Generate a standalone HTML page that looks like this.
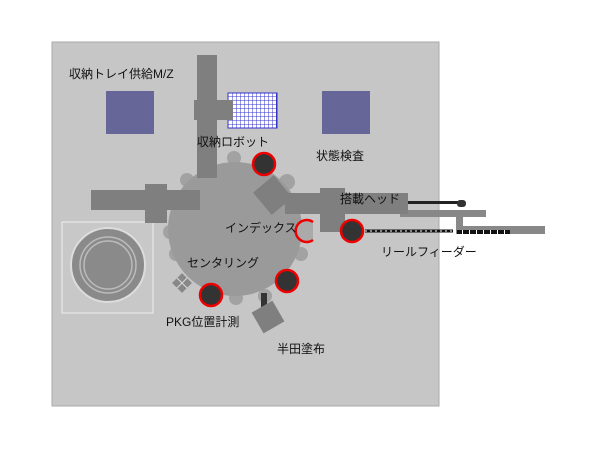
<!DOCTYPE html>
<html><head><meta charset="utf-8"><style>
body{margin:0;background:#fff;}
svg text{font-family:"Liberation Sans","Noto Sans CJK JP",sans-serif;font-size:12px;fill:#111;}
</style></head><body>
<svg width="600" height="450" viewBox="0 0 600 450" xmlns="http://www.w3.org/2000/svg">
<defs>
<pattern id="g" width="4" height="4" patternUnits="userSpaceOnUse">
<rect width="4" height="4" fill="#fff"/><path d="M0 0H4M0 0V4" stroke="#3333cc" stroke-width="1"/></pattern>
</defs>
<rect x="52" y="42" width="387" height="364" fill="#c6c6c6" stroke="#aaa"/>
<rect x="106" y="91" width="48" height="43" fill="#666699"/>
<rect x="322" y="91" width="48" height="43" fill="#666699"/>
<rect x="228" y="93" width="49" height="35" fill="url(#g)" stroke="#3333cc"/>
<rect x="62" y="222" width="91" height="91" fill="#c8c8c8" stroke="#eee"/>
<circle cx="108" cy="265" r="37" fill="#8a8a8a" stroke="#ddd" stroke-width="2"/>
<circle cx="108" cy="265" r="28" fill="none" stroke="#bbb" stroke-width="1.5"/>
<circle cx="108" cy="265" r="24" fill="none" stroke="#bbb" stroke-width="1.5"/>
<g fill="#a2a2a2">
<circle cx="187" cy="180" r="7"/><circle cx="234" cy="158" r="7"/><circle cx="287" cy="182" r="8"/>
<circle cx="170" cy="232" r="7"/><circle cx="176" cy="254" r="7"/><circle cx="301" cy="254" r="7"/>
<circle cx="236" cy="298" r="7"/><circle cx="265" cy="296" r="7"/>
</g>
<circle cx="235" cy="229" r="67" fill="#9a9a9a"/>
<rect x="197" y="55" width="20" height="123" fill="#7f7f7f"/>
<rect x="194" y="100" width="39" height="20" fill="#7f7f7f"/>
<rect x="91" y="190" width="109" height="20" fill="#7f7f7f"/>
<rect x="145" y="184" width="22" height="39" fill="#7f7f7f"/>
<rect x="259" y="181" width="27" height="29" fill="#7f7f7f" transform="rotate(-40 272 195)"/>
<rect x="408" y="201" width="54" height="3" fill="#222"/>
<rect x="457" y="200" width="9" height="7" rx="3" fill="#333"/>
<rect x="400" y="210" width="86" height="7" fill="#888"/>
<rect x="456" y="217" width="7" height="12" fill="#888"/>
<rect x="456" y="226" width="89" height="8" fill="#888"/>
<line x1="365" y1="231" x2="453" y2="231" stroke="#111" stroke-width="3"/>
<line x1="365" y1="231" x2="453" y2="231" stroke="#fff" stroke-width="1" stroke-dasharray="2 3"/>
<line x1="457" y1="232" x2="510" y2="232" stroke="#111" stroke-width="4"/>
<line x1="457" y1="232" x2="510" y2="232" stroke="#fff" stroke-width="4" stroke-dasharray="1 6" stroke-dashoffset="-5"/>
<rect x="285" y="193" width="123" height="21" fill="#7f7f7f"/>
<rect x="320" y="188" width="25" height="44" fill="#7f7f7f"/>
<rect x="175" y="276" width="14" height="14" fill="#888" transform="rotate(45 182 283)"/>
<path d="M177 278L187 288M187 278L177 288" stroke="#ddd"/>
<rect x="261" y="293" width="6" height="14" fill="#333"/>
<rect x="256" y="305" width="24" height="24" fill="#7f7f7f" transform="rotate(-30 268 317)"/>
<g fill="#333" stroke="#e00" stroke-width="2.5">
<circle cx="264" cy="164" r="11"/><circle cx="211" cy="295" r="11"/><circle cx="287" cy="281" r="11"/><circle cx="352" cy="231" r="11"/>
</g>
<path d="M313 240A11 11 0 1 1 313 222" fill="#aaa" stroke="#e00" stroke-width="2.5"/>
<text x="69" y="78">収納トレイ供給M/Z</text>
<text x="197" y="146">収納ロボット</text>
<text x="316" y="160">状態検査</text>
<text x="340" y="203">搭載ヘッド</text>
<text x="225" y="232">インデックス</text>
<text x="187" y="267">センタリング</text>
<text x="166" y="326">PKG位置計測</text>
<text x="277" y="353">半田塗布</text>
<text x="381" y="256">リールフィーダー</text>
</svg>
</body></html>
